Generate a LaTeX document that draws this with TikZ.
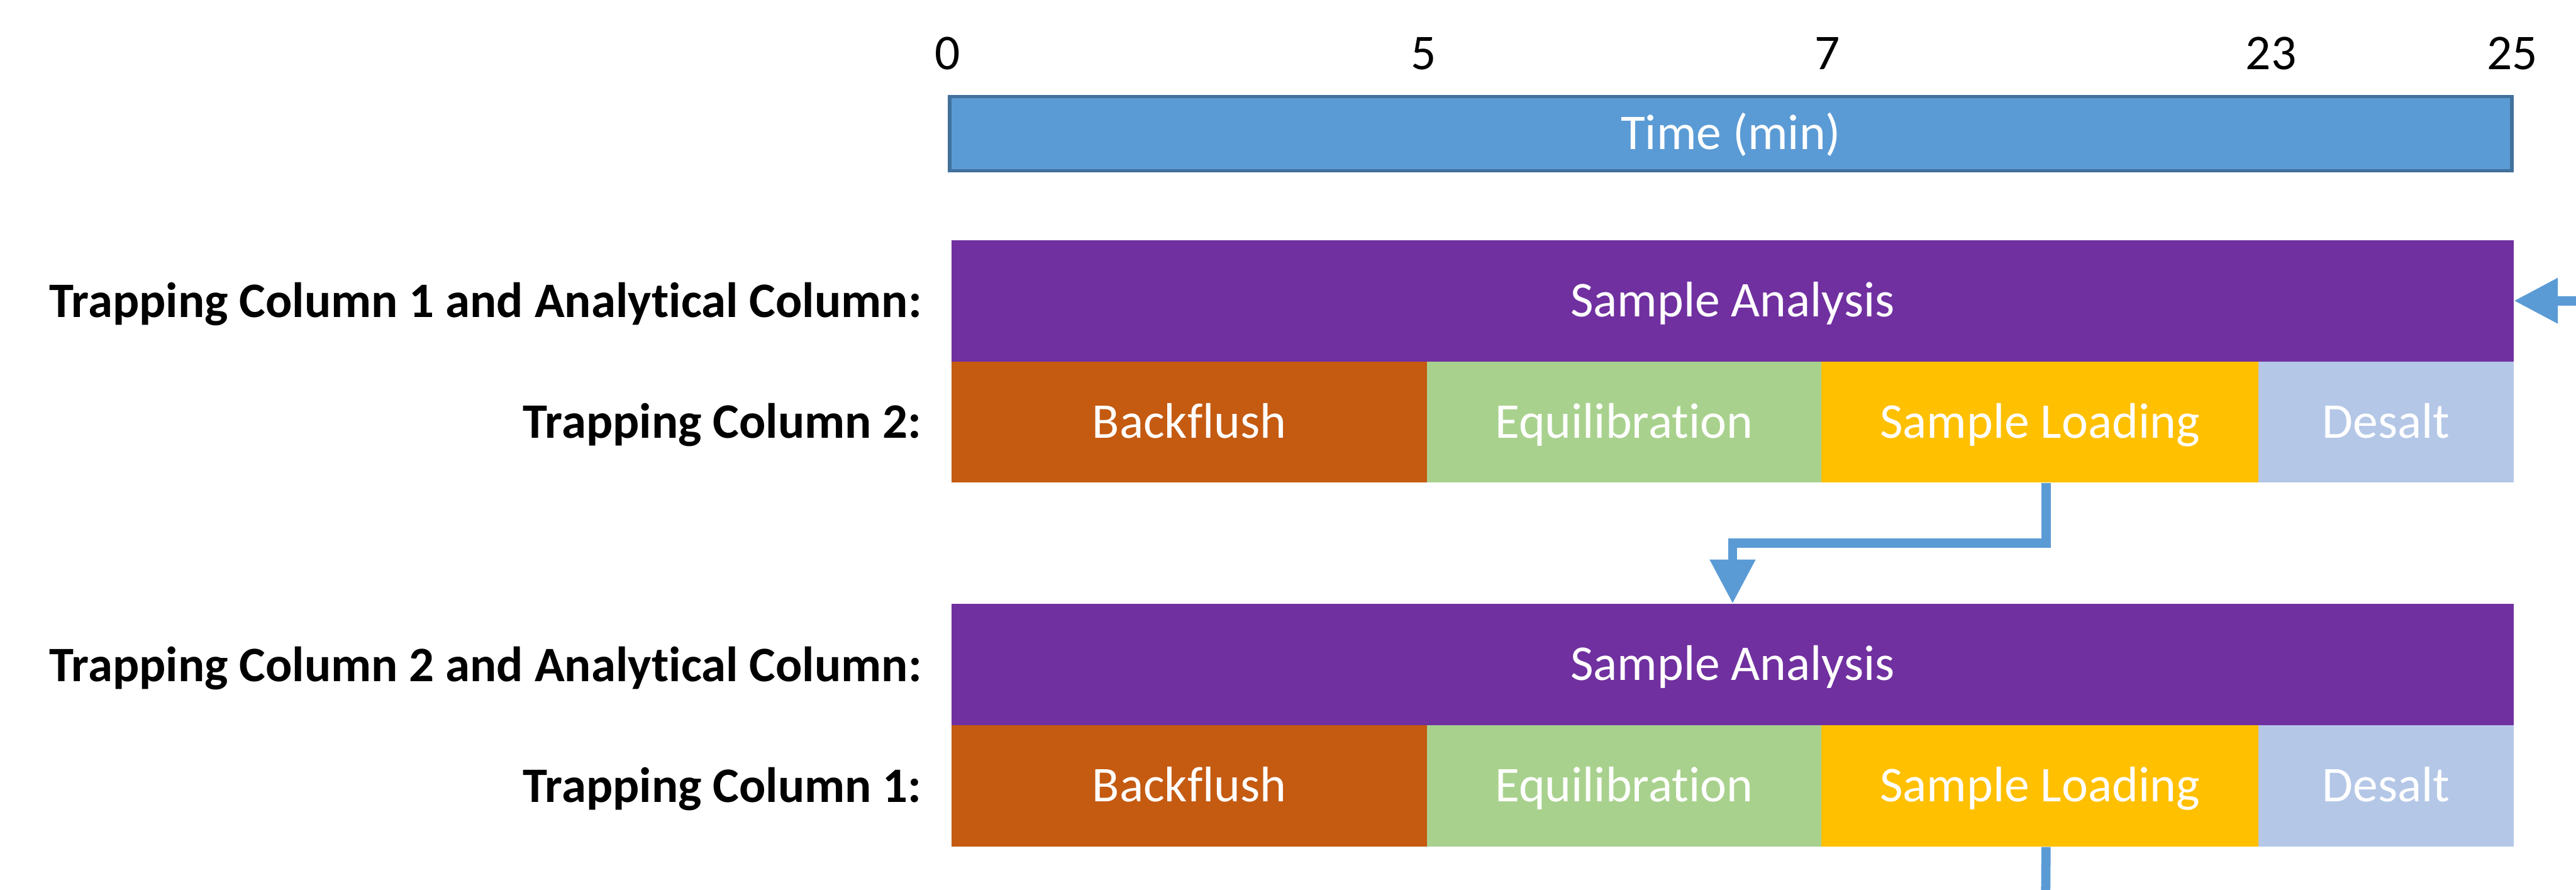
\documentclass[tikz,border=0pt]{standalone}
\usepackage{fontspec}
\setmainfont{Carlito}[Ligatures={NoCommon}]
\usepackage{tikz}
\usetikzlibrary{arrows.meta,positioning}

\definecolor{TimeBlue}{HTML}{5B9BD5}
\definecolor{TimeEdge}{HTML}{41719C}
\definecolor{Analysis}{HTML}{7030A0}
\definecolor{Backflush}{HTML}{C55A11}
\definecolor{Equil}{HTML}{A9D18E}
\definecolor{Loading}{HTML}{FFC000}
\definecolor{Desalt}{HTML}{B4C7E7}

\begin{document}
\begin{tikzpicture}
		\tikzstyle{Txt}		= [font=\fontsize{23}{28}\selectfont]
		\tikzstyle{Bar}		= [Txt, rectangle, inner sep=0pt, minimum height=1.96cm, text=white, text height=0.51cm, text depth=0pt]
		\tikzstyle{Label}	= [Txt, font=\fontsize{22.8}{28}\selectfont\bfseries, anchor=base east, inner sep=0pt]
		\tikzstyle{Tick}	= [Txt, anchor=base, inner sep=0pt]
		\tikzstyle{Flow}	= [TimeBlue, line width=0.15cm, -{Triangle[length=7.1mm, width=7mm]}]
		\tikzstyle{Tail}	= [TimeBlue, line width=0.15cm]

		\useasboundingbox (0,0) rectangle (41.63,14.38);

		% time axis
		\node (time) at (27.97,12.22) [Txt, draw=TimeEdge, line width=0.06cm, fill=TimeBlue, text=white, minimum width=25.24cm, minimum height=1.2cm, text height=0.51cm, text depth=0pt, inner sep=0pt] {Time (min)};
		\node (t0)  at (15.31,13.26) [Tick] {0};
		\node (t5)  at (23.01,13.26) [Tick] {5};
		\node (t7)  at (29.53,13.26) [Tick] {7};
		\node (t23) at (36.70,13.26) [Tick] {23};
		\node (t25) at (40.60,13.26) [Tick] {25};

		% first cycle
		\node (ana1)  at (28.00,9.52) [Bar, fill=Analysis, minimum width=25.24cm] {Sample Analysis};
		\node (back1) at (19.22,7.56) [Bar, fill=Backflush, minimum width=7.68cm] {Backflush};
		\node (equ1)  at (26.245,7.56) [Bar, fill=Equil, minimum width=6.37cm] {Equilibration};
		\node (load1) at (32.965,7.56) [Bar, fill=Loading, minimum width=7.07cm] {Sample Loading};
		\node (des1)  at (38.56,7.56) [Bar, fill=Desalt, minimum width=4.12cm] {Desalt};
		\node (lab1) at (14.90,9.25) [Label] {Trapping Column 1 and Analytical Column:};
		\node (lab2) at (14.90,7.30) [Label] {Trapping Column 2:};

		% second cycle
		\node (ana2)  at (28.00,3.64) [Bar, fill=Analysis, minimum width=25.24cm] {Sample Analysis};
		\node (back2) at (19.22,1.68) [Bar, fill=Backflush, minimum width=7.68cm] {Backflush};
		\node (equ2)  at (26.245,1.68) [Bar, fill=Equil, minimum width=6.37cm] {Equilibration};
		\node (load2) at (32.965,1.68) [Bar, fill=Loading, minimum width=7.07cm] {Sample Loading};
		\node (des2)  at (38.56,1.68) [Bar, fill=Desalt, minimum width=4.12cm] {Desalt};
		\node (lab3) at (14.90,3.37) [Label] {Trapping Column 2 and Analytical Column:};
		\node (lab4) at (14.90,1.42) [Label] {Trapping Column 1:};

		% switching arrows
		\coordinate (feed) at (41.80,9.52);
		\coordinate (next) at (33.06,0);
		\draw [Flow] (feed) -- (ana1.east);
		\draw [Flow] ([xshift=1mm]load1.south) -- ++(0,-0.97) -| (ana2.north);
		\draw [Tail] ([xshift=1mm]load2.south) -- (next);
	\end{tikzpicture}
\end{document}
